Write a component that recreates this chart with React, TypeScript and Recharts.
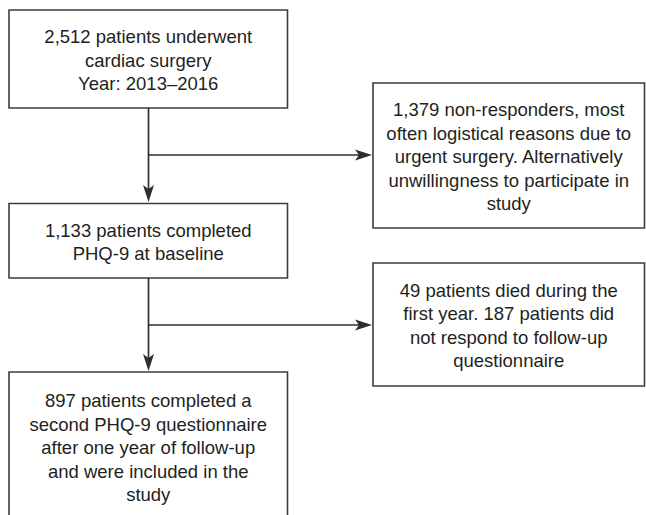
import {
  ComposedChart,
  ReferenceArea,
  ReferenceLine,
  Scatter,
  XAxis,
  YAxis,
} from "recharts";

const W = 646;
const H = 515;

// box captions, top of the flow first; odd entries are the side (excluded) boxes
const enrolledLines = ["2,512 patients underwent", "cardiac surgery", "Year: 2013–2016"];
const nonResponderLines = [
  "1,379 non-responders, most",
  "often logistical reasons due to",
  "urgent surgery. Alternatively",
  "unwillingness to participate in",
  "study",
];
const baselineLines = ["1,133 patients completed", "PHQ-9 at baseline"];
const lostLines = [
  "49 patients died during the",
  "first year. 187 patients did",
  "not respond to follow-up",
  "questionnaire",
];
const includedLines = [
  "897 patients completed a",
  "second PHQ-9 questionnaire",
  "after one year of follow-up",
  "and were included in the",
  "study",
];

const captions = [enrolledLines, nonResponderLines, baselineLines, lostLines, includedLines];

// box extents in diagram units (y runs downward)
const boxX: [number, number][] = [[9, 287.5], [373, 644.5], [9, 287.5], [373, 644.5], [9, 287.5]];
const boxY: [number, number][] = [[10, 108], [83, 228], [203.5, 278], [263, 386], [372, 521]];

// connectors, start -> tip
const arrows: [number, number, number, number][] = [
  [148.5, 108, 148.5, 202],
  [148.5, 155, 372, 155],
  [148.5, 278, 148.5, 371],
  [148.5, 325, 372, 325],
];

const INK = "#2e2e2e";
const BOX = "#3c3c3c";
const TEXT = "#231f20";
const FONT = 18.5;
const LEAD = 23.5;

// one point per box, at its middle; the caption is hung from it
const captionPoints = captions.map((lines, i) => ({
  x: (boxX[i][0] + boxX[i][1]) / 2,
  y: (boxY[i][0] + boxY[i][1]) / 2,
  lines,
}));

function ArrowShape(props: any) {
  const { x1, y1, x2, y2 } = props;
  const dx = x2 - x1;
  const dy = y2 - y1;
  const len = Math.hypot(dx, dy) || 1;
  const ux = dx / len;
  const uy = dy / len;
  const px = -uy;
  const py = ux;
  const back = 17; // head length
  const half = 5.5; // head half width
  const notch = 13;
  const bx = x2 - ux * back;
  const by = y2 - uy * back;
  const nx = x2 - ux * notch;
  const ny = y2 - uy * notch;
  return (
    <g>
      <line x1={x1} y1={y1} x2={nx} y2={ny} stroke={INK} strokeWidth={1.7} />
      <polygon
        points={`${x2},${y2} ${bx + px * half},${by + py * half} ${nx},${ny} ${bx - px * half},${by - py * half}`}
        fill={INK}
      />
    </g>
  );
}

function CaptionShape(props: any) {
  const { cx, cy, payload } = props;
  const lines: string[] = payload?.lines ?? [];
  const n = lines.length;
  const mid = cy + 1.5;
  return (
    <text
      textAnchor="middle"
      fontFamily="'Liberation Sans', Arial, sans-serif"
      fontSize={FONT}
      fill={TEXT}
    >
      {lines.map((t, i) => (
        <tspan key={i} x={cx} y={mid + (i - (n - 1) / 2) * LEAD + 6}>
          {t}
        </tspan>
      ))}
    </text>
  );
}

export default function App() {
  return (
    <div style={{ position: "absolute", left: 0, top: 0, background: "#fff" }}>
      <ComposedChart
        width={W}
        height={H}
        data={captionPoints}
        margin={{ top: 0, right: 0, bottom: 0, left: 0 }}
      >
        <XAxis type="number" dataKey="x" domain={[0, W]} allowDataOverflow hide />
        <YAxis type="number" dataKey="y" domain={[0, H]} allowDataOverflow reversed hide />
        {captions.map((_, i) => (
          <ReferenceArea
            key={`b${i}`}
            x1={boxX[i][0]}
            x2={boxX[i][1]}
            y1={boxY[i][0]}
            y2={boxY[i][1]}
            fill="none"
            stroke={BOX}
            strokeWidth={1.6}
            ifOverflow="visible"
          />
        ))}
        {arrows.map(([x1, y1, x2, y2], i) => (
          <ReferenceLine
            key={`a${i}`}
            segment={[{ x: x1, y: y1 }, { x: x2, y: y2 }]}
            ifOverflow="visible"
            shape={ArrowShape}
          />
        ))}
        <Scatter
          data={captionPoints}
          dataKey="y"
          shape={CaptionShape}
          isAnimationActive={false}
        />
      </ComposedChart>
    </div>
  );
}
